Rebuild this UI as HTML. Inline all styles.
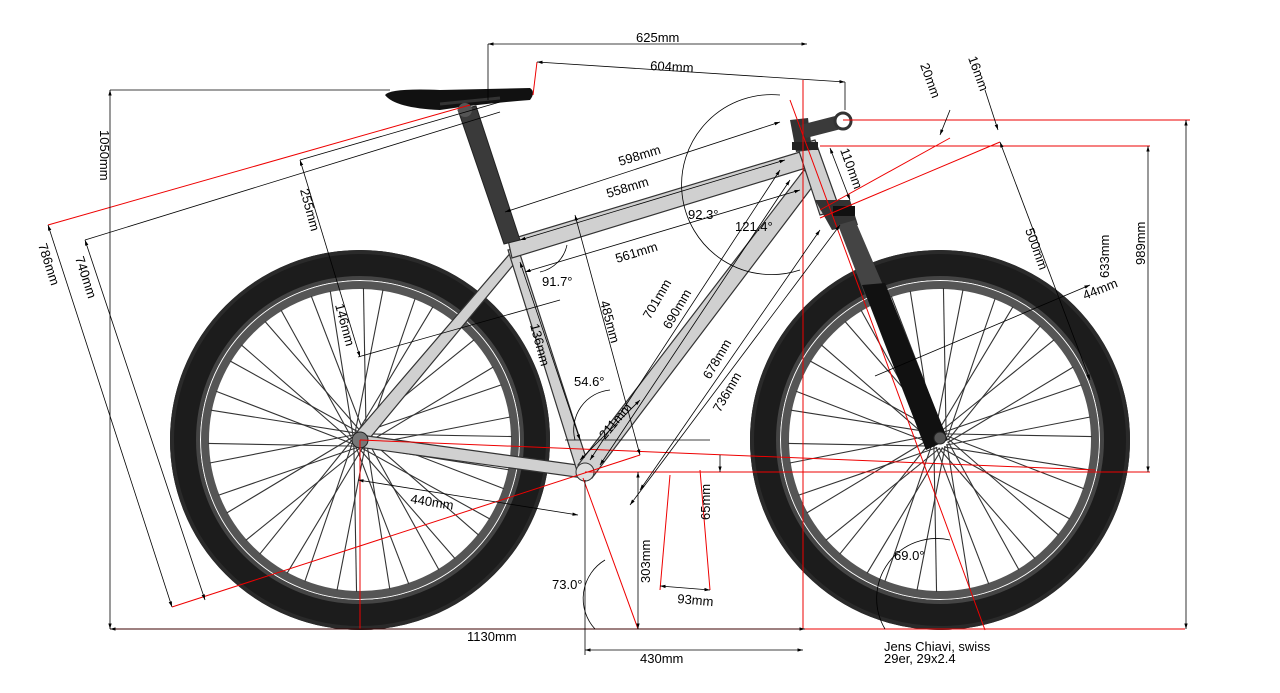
<!DOCTYPE html>
<html><head><meta charset="utf-8"><style>
html,body{margin:0;padding:0;background:#fff;}
svg{display:block;font-family:"Liberation Sans",sans-serif;font-size:13px;}
</style></head><body>
<svg id="s" width="1280" height="693" viewBox="0 0 1280 693" xmlns="http://www.w3.org/2000/svg">
<defs>
<marker id="a" viewBox="0 0 10 10" refX="10" refY="5" markerWidth="7" markerHeight="7" orient="auto-start-reverse"><path d="M0,2 L10,5 L0,8 z" fill="#000"/></marker>
</defs>
<g id="wheels">
 <g transform="translate(360,440)">
  <circle r="175" fill="none" stroke="#1c1c1c" stroke-width="30"/>
  <circle r="188" fill="none" stroke="#2a2a2a" stroke-width="4"/>
  <circle r="162" fill="none" stroke="#444" stroke-width="4"/>
  <circle r="155" fill="none" stroke="#555" stroke-width="8"/>
  <g id="sp1" stroke="#333" stroke-width="1.1"></g>
 </g>
 <g transform="translate(940,440)">
  <circle r="175" fill="none" stroke="#1c1c1c" stroke-width="30"/>
  <circle r="188" fill="none" stroke="#2a2a2a" stroke-width="4"/>
  <circle r="162" fill="none" stroke="#444" stroke-width="4"/>
  <circle r="155" fill="none" stroke="#555" stroke-width="8"/>
  <g id="sp2" stroke="#333" stroke-width="1.1"></g>
 </g>
</g>
<g stroke="#333" stroke-width="1.2" fill="#d0d0d0">
 <polygon points="356,433 513,250 519,258 364,445"/>
 <polygon points="360,435 585,466 583,478 358,447"/>
 <polygon points="508,250 518,248 590,470 578,474"/>
 <polygon points="508,240 800,152 806,168 512,258"/>
 <polygon points="578,465 804,170 816,182 592,478"/>
 <polygon points="797,145 815,140 840,210 820,215"/>
</g>
<polygon points="458,110 476,106 520,240 504,244" fill="#3a3a3a" stroke="#222"/>
<path d="M385,95 Q390,88 440,90 L530,88 Q536,92 530,100 Q480,104 440,110 Q395,108 385,95z" fill="#111"/>
<line x1="440" y1="104" x2="500" y2="98" stroke="#333" stroke-width="3"/>
<circle cx="465" cy="110" r="7" fill="#555"/>
<polygon points="790,120 808,118 812,150 796,152" fill="#333"/>
<polygon points="800,125 843,114 845,128 806,138" fill="#3a3a3a"/>
<circle cx="843" cy="121" r="8" fill="#fff" stroke="#333" stroke-width="3"/>
<rect x="792" y="142" width="26" height="8" fill="#222"/>
<polygon points="815,200 850,200 858,225 832,230" fill="#333"/>
<rect x="833" y="206" width="22" height="10" fill="#111"/>
<polygon points="838,225 855,220 885,290 865,295" fill="#444"/>
<polygon points="862,285 885,283 948,440 926,450" fill="#111"/>
<circle cx="940" cy="438" r="6" fill="#555" stroke="#222"/>
<circle cx="360" cy="440" r="8" fill="#777" stroke="#222"/>
<circle cx="585" cy="472" r="9" fill="#ddd" stroke="#333"/>
<g stroke="#e00" stroke-width="1" fill="none">
 <line x1="110" y1="629" x2="1185" y2="629"/>
 <line x1="360" y1="440" x2="1095" y2="470"/>
 <line x1="585" y1="472" x2="1150" y2="472"/>
 <line x1="803" y1="80" x2="803" y2="629"/>
 <line x1="843" y1="120" x2="1190" y2="120"/>
 <line x1="820" y1="146" x2="1150" y2="146"/>
 <line x1="48" y1="225" x2="470" y2="105"/>
 <line x1="172" y1="607" x2="640" y2="455"/>
 <line x1="820" y1="218" x2="1000" y2="142"/>
 <line x1="820" y1="210" x2="950" y2="138"/>
 <line x1="790" y1="100" x2="985" y2="630"/>
 <line x1="360" y1="440" x2="360" y2="629"/>
 <line x1="583" y1="478" x2="638" y2="629"/>
 <line x1="700" y1="470" x2="710" y2="590"/>
 <line x1="670" y1="475" x2="660" y2="590"/>
 <line x1="537" y1="62" x2="533" y2="95"/>
</g>
<g stroke="#000" stroke-width="0.8" fill="none">
 <line x1="488" y1="44" x2="807" y2="44" marker-start="url(#a)" marker-end="url(#a)"/>
 <line x1="488" y1="44" x2="488" y2="100"/>
 <line x1="537" y1="62" x2="845" y2="82" marker-start="url(#a)" marker-end="url(#a)"/>
 <line x1="845" y1="82" x2="845" y2="110"/>
 <line x1="110" y1="90" x2="110" y2="629" marker-start="url(#a)" marker-end="url(#a)"/>
 <line x1="110" y1="90" x2="390" y2="90"/>
 <line x1="1186" y1="120" x2="1186" y2="629" marker-start="url(#a)" marker-end="url(#a)"/>
 <line x1="1148" y1="146" x2="1148" y2="472" marker-start="url(#a)" marker-end="url(#a)"/>
 <line x1="110" y1="629" x2="805" y2="629" marker-start="url(#a)" marker-end="url(#a)"/>
 <line x1="585" y1="650" x2="803" y2="650" marker-start="url(#a)" marker-end="url(#a)"/>
 <line x1="585" y1="480" x2="585" y2="655"/>
 <line x1="638" y1="472" x2="638" y2="629" marker-start="url(#a)" marker-end="url(#a)"/>
 <line x1="48" y1="225" x2="172" y2="607" marker-start="url(#a)" marker-end="url(#a)"/>
 <line x1="85" y1="240" x2="205" y2="600" marker-start="url(#a)" marker-end="url(#a)"/>
 <line x1="85" y1="240" x2="500" y2="112"/>
 <line x1="300" y1="160" x2="360" y2="357" marker-start="url(#a)" marker-end="url(#a)"/>
 <line x1="300" y1="160" x2="500" y2="102"/>
 <line x1="358" y1="357" x2="560" y2="300"/>
 <line x1="505" y1="212" x2="780" y2="122" marker-start="url(#a)" marker-end="url(#a)"/>
 <line x1="520" y1="240" x2="785" y2="160" marker-start="url(#a)" marker-end="url(#a)"/>
 <line x1="525" y1="272" x2="800" y2="190" marker-start="url(#a)" marker-end="url(#a)"/>
 <line x1="575" y1="215" x2="640" y2="455" marker-start="url(#a)" marker-end="url(#a)"/>
 <line x1="520" y1="262" x2="580" y2="440" marker-start="url(#a)" marker-end="url(#a)"/>
 <line x1="565" y1="440" x2="710" y2="440"/>
 <line x1="600" y1="465" x2="790" y2="180" marker-start="url(#a)" marker-end="url(#a)"/>
 <line x1="590" y1="460" x2="780" y2="170" marker-start="url(#a)" marker-end="url(#a)"/>
 <line x1="640" y1="490" x2="820" y2="230" marker-start="url(#a)" marker-end="url(#a)"/>
 <line x1="630" y1="505" x2="840" y2="225" marker-start="url(#a)" marker-end="url(#a)"/>
 <line x1="580" y1="460" x2="640" y2="400" marker-start="url(#a)" marker-end="url(#a)"/>
 <line x1="358" y1="480" x2="578" y2="515" marker-start="url(#a)" marker-end="url(#a)"/>
 <line x1="1000" y1="142" x2="1090" y2="380" marker-start="url(#a)" marker-end="url(#a)"/>
 <line x1="875" y1="376" x2="1090" y2="285" marker-end="url(#a)"/>
 <line x1="720" y1="455" x2="720" y2="472" marker-end="url(#a)"/>
 <line x1="660" y1="586" x2="710" y2="590" marker-start="url(#a)" marker-end="url(#a)"/>
 <line x1="830" y1="148" x2="850" y2="200" marker-start="url(#a)" marker-end="url(#a)"/>
 <line x1="950" y1="110" x2="940" y2="135" marker-end="url(#a)"/>
 <line x1="985" y1="90" x2="998" y2="130" marker-end="url(#a)"/>
 <path d="M800,270 A90,90 0 1 1 780,95"/>
 <path d="M540,272 A35,35 0 0 0 567,245"/>
 <path d="M575,440 A40,40 0 0 1 610,390"/>
 <path d="M595,629 A45,45 0 0 1 605,560"/>
 <path d="M885,629 A60,60 0 0 1 950,540"/>
</g>
<g fill="#000">
 <text x="636" y="42">625mm</text>
 <text x="650" y="70" transform="rotate(3 650 70)">604mm</text>
 <text x="620" y="166" transform="rotate(-17 620 166)">598mm</text>
 <text x="608" y="198" transform="rotate(-17 608 198)">558mm</text>
 <text x="617" y="263" transform="rotate(-17 617 263)">561mm</text>
 <text x="688" y="219">92.3°</text>
 <text x="735" y="231">121.4°</text>
 <text x="542" y="286">91.7°</text>
 <text x="574" y="386">54.6°</text>
 <text x="600" y="302" transform="rotate(75 600 302)">485mm</text>
 <text x="530" y="325" transform="rotate(75 530 325)">136mm</text>
 <text x="650" y="320" transform="rotate(-60 650 320)">701mm</text>
 <text x="670" y="330" transform="rotate(-60 670 330)">690mm</text>
 <text x="710" y="380" transform="rotate(-60 710 380)">678mm</text>
 <text x="720" y="413" transform="rotate(-60 720 413)">736mm</text>
 <text x="605" y="440" transform="rotate(-50 605 440)">211mm</text>
 <text x="410" y="503" transform="rotate(9 410 503)">440mm</text>
 <text x="335" y="305" transform="rotate(75 335 305)">146mm</text>
 <text x="300" y="190" transform="rotate(75 300 190)">255mm</text>
 <text x="100" y="130" transform="rotate(90 100 130)">1050mm</text>
 <text x="38" y="245" transform="rotate(72 38 245)">786mm</text>
 <text x="75" y="258" transform="rotate(72 75 258)">740mm</text>
 <text x="1190" y="220" transform="rotate(-90 1190 265)">989mm</text>
 <text x="1152" y="235" transform="rotate(-90 1152 278)">633mm</text>
 <text x="1025" y="230" transform="rotate(70 1025 230)">500mm</text>
 <text x="1085" y="300" transform="rotate(-22 1085 300)">44mm</text>
 <text x="840" y="150" transform="rotate(70 840 150)">110mm</text>
 <text x="920" y="65" transform="rotate(70 920 65)">20mm</text>
 <text x="968" y="58" transform="rotate(70 968 58)">16mm</text>
 <text x="710" y="520" transform="rotate(-90 710 520)">65mm</text>
 <text x="650" y="583" transform="rotate(-90 650 583)">303mm</text>
 <text x="677" y="603" transform="rotate(5 677 603)">93mm</text>
 <text x="552" y="589">73.0°</text>
 <text x="894" y="560">69.0°</text>
 <text x="467" y="641">1130mm</text>
 <text x="640" y="663">430mm</text>
 <text x="884" y="651">Jens Chiavi, swiss</text>
 <text x="884" y="663">29er, 29x2.4</text>
</g>
</svg>
<script>
for (const id of ["sp1","sp2"]) {
  const g=document.getElementById(id);let h="";
  for(let i=0;i<36;i++){const a=i*Math.PI*2/36, b=a+(i%2?0.85:-0.85);
    const x1=8*Math.cos(a),y1=8*Math.sin(a),x2=152*Math.cos(b),y2=152*Math.sin(b);
    h+=`<line x1="${x1}" y1="${y1}" x2="${x2}" y2="${y2}"/>`;}
  g.innerHTML=h;
}
</script>
</body></html>
